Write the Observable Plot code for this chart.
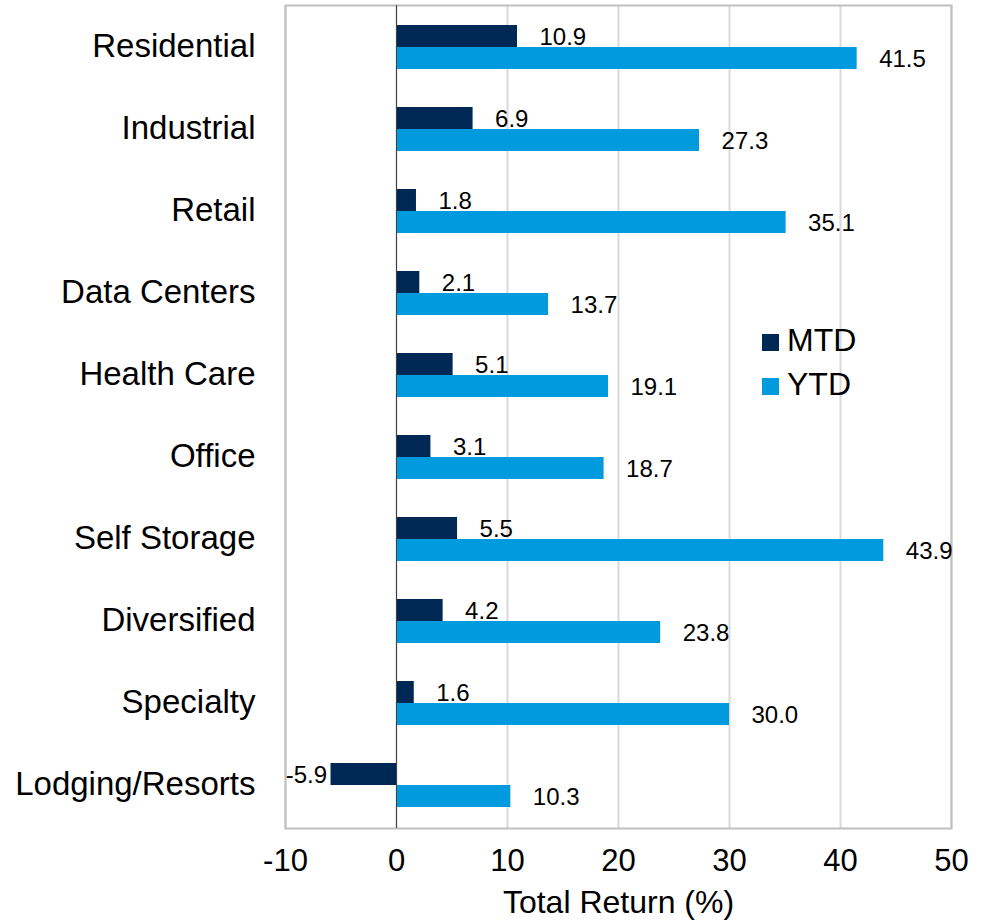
<!DOCTYPE html>
<html>
<head>
<meta charset="utf-8">
<script src="https://cdn.jsdelivr.net/npm/d3@7"></script>
<script src="https://cdn.jsdelivr.net/npm/@observablehq/plot@0.6"></script>
<style>
  html, body { margin: 0; padding: 0; background: #fff; }
  #wrap { position: relative; width: 990px; height: 921px; font-family: "Liberation Sans", Arial, sans-serif; }
  #legend { position: absolute; left: 762px; top: 318px; font-size: 32px; color: #000; line-height: 44px; }
  #legend .sw { display: inline-block; width: 17px; height: 17px; margin-right: 8px; vertical-align: 0px; }
</style>
</head>
<body>
<div id="wrap"><div id="legend"></div></div>
<script>
const categories = ["Residential", "Industrial", "Retail", "Data Centers", "Health Care", "Office", "Self Storage", "Diversified", "Specialty", "Lodging/Resorts"];
const mtd = [10.9, 6.9, 1.8, 2.1, 5.1, 3.1, 5.5, 4.2, 1.6, -5.9];
const ytd = [41.5, 27.3, 35.1, 13.7, 19.1, 18.7, 43.9, 23.8, 30.0, 10.3];
const xTicks = [-10, 0, 10, 20, 30, 40, 50];
const seriesNames = ["MTD", "YTD"];
const colors = ["#002855", "#009ADE"];
const xTitle = "Total Return (%)";

const mtdData = categories.map((c, i) => ({category: c, value: mtd[i]}));
const ytdData = categories.map((c, i) => ({category: c, value: ytd[i]}));

const chart = Plot.plot({
  width: 990,
  height: 921,
  marginLeft: 285,
  marginRight: 39,
  marginTop: 5,
  marginBottom: 93,
  style: {fontFamily: "'Liberation Sans', Arial, sans-serif", background: "transparent"},
  x: {domain: [-10, 50], ticks: xTicks, label: null},
  y: {domain: categories, padding: 0, label: null},
  marks: [
    Plot.gridX(xTicks, {stroke: "#d9d9d9", strokeWidth: 2, strokeOpacity: 1}),
    Plot.frame({stroke: "#bfbfbf", strokeWidth: 2}),
    Plot.barX(mtdData, {x: "value", y: "category", fill: colors[0], insetTop: 18, insetBottom: 42}),
    Plot.barX(ytdData, {x: "value", y: "category", fill: colors[1], insetTop: 40, insetBottom: 20}),
    Plot.ruleX([0], {stroke: "#404040", strokeWidth: 1}),
    Plot.text(mtdData.filter(d => d.value >= 0), {x: "value", y: "category", text: d => d.value.toFixed(1), textAnchor: "start", dx: 22, dy: -11, fontSize: 24, fill: "#000"}),
    Plot.text(mtdData.filter(d => d.value < 0), {x: "value", y: "category", text: d => d.value.toFixed(1), textAnchor: "end", dx: -4, dy: -11, fontSize: 24, fill: "#000"}),
    Plot.text(ytdData, {x: "value", y: "category", text: d => d.value.toFixed(1), textAnchor: "start", dx: 22, dy: 11, fontSize: 24, fill: "#000"}),
    Plot.axisY({tickSize: 0, tickPadding: 30, fontSize: 33, dy: -2, label: null, fill: "#000"}),
    Plot.axisX(xTicks, {tickSize: 0, tickPadding: 20, fontSize: 31, fill: "#000", label: null, tickFormat: d => String(d)}),
    Plot.text([xTitle], {text: d => d, frameAnchor: "bottom", dy: 74, fontSize: 32, fill: "#000", lineAnchor: "middle"})
  ]
});
chart.style.position = "absolute";
chart.style.left = "0";
chart.style.top = "0";
const wrap = document.getElementById("wrap");
wrap.insertBefore(chart, wrap.firstChild);
const legend = document.getElementById("legend");
legend.innerHTML = seriesNames.map((s, i) => `<div><span class="sw" style="background:${colors[i]}"></span>${s}</div>`).join("");
</script>
</body>
</html>
